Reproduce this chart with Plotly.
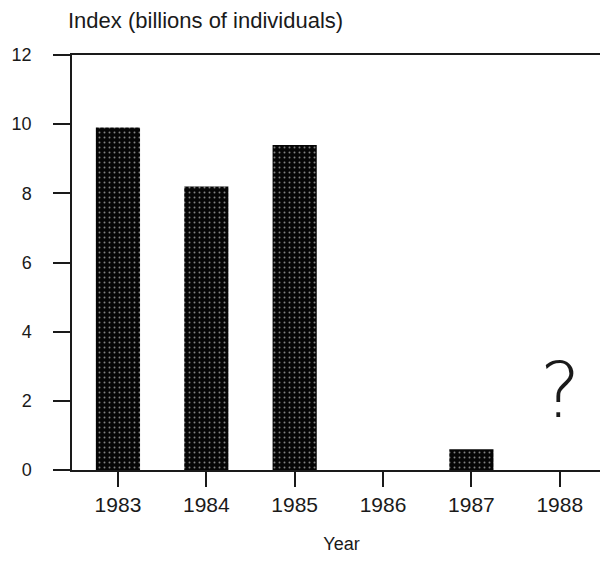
import plotly.graph_objects as go

years = ["1983", "1984", "1985", "1986", "1987", "1988"]
index_values = [9.9, 8.2, 9.4, 0.0, 0.6, None]
y_ticks = [0, 2, 4, 6, 8, 10, 12]
title_text = "Index (billions of individuals)"
x_title = "Year"

font_family = "Liberation Sans, DejaVu Sans, sans-serif"
ink = "#1a1a1a"

fig = go.Figure()
fig.add_trace(go.Bar(
    x=years,
    y=index_values,
    width=0.5,
    marker=dict(
        color="#050505",
        line=dict(width=0),
        pattern=dict(shape=".", fgcolor="#ffffff", bgcolor="#050505", size=5, solidity=0.12),
    ),
    showlegend=False,
    hoverinfo="x+y",
))

fig.add_annotation(x=5, y=2.3, text="?", showarrow=False,
                   font=dict(family="DejaVu Sans, sans-serif", size=76, color=ink, weight=200),
                   xref="x", yref="y")

fig.add_annotation(x=0.0, y=1.0, xref="paper", yref="paper", yshift=20, xshift=-6,
                   xanchor="left", yanchor="bottom", text=title_text, showarrow=False,
                   font=dict(family=font_family, size=22, color=ink))

fig.update_layout(
    width=608, height=562,
    margin=dict(l=64, r=5, t=47, b=100),
    paper_bgcolor="white", plot_bgcolor="white",
    font=dict(family=font_family, size=20, color=ink),
    bargap=0.5,
)
fig.update_xaxes(
    type="category",
    categoryorder="array", categoryarray=years,
    range=[-0.52, 5.58],
    automargin=False,
    showline=True, linecolor=ink, linewidth=1.5, mirror=True,
    ticks="outside", ticklen=15, tickwidth=1.5, tickcolor=ink,
    tickfont=dict(size=21), showgrid=False,
    title=dict(text=x_title, font=dict(size=18), standoff=22),
)
fig.update_yaxes(
    range=[0, 12],
    tickvals=y_ticks,
    automargin=False,
    showline=True, linecolor=ink, linewidth=1.5, mirror=True,
    ticks="outside", ticklen=17, tickwidth=1.5, tickcolor=ink,
    tickfont=dict(size=18), ticklabelstandoff=18,
    showgrid=False, zeroline=False,
)

fig.write_html("out.html")
